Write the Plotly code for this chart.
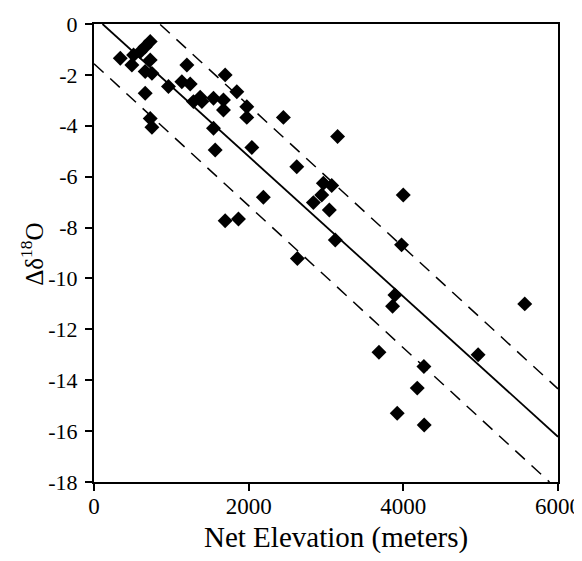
import plotly.graph_objects as go

# Data
elevation = [340, 490, 512, 598, 662, 727, 727, 662, 749, 662, 963, 1201, 1136, 1244,
             727, 749, 1286, 1373, 1395, 1545, 1674, 1674, 1696, 1847, 1976, 1976,
             1545, 1567, 2041, 2449, 3150, 2622, 2966, 3074, 2945, 2837, 3043, 2190,
             1696, 1868, 3120, 2630, 3999, 3977, 3891, 3861, 5570, 3685, 4967, 4266,
             4180, 3921, 4270]
delta18o = [-1.35, -1.61, -1.22, -1.09, -0.89, -0.69, -1.41, -1.87, -1.94, -2.72, -2.46,
            -1.61, -2.27, -2.36, -3.71, -4.06, -3.05, -2.88, -3.05, -2.92, -2.99, -3.38,
            -2.00, -2.66, -3.25, -3.67, -4.10, -4.95, -4.85, -3.67, -4.42, -5.61, -6.26,
            -6.35, -6.72, -7.02, -7.31, -6.81, -7.73, -7.66, -8.49, -9.22, -6.72, -8.68,
            -10.65, -11.09, -11.00, -12.90, -13.00, -13.46, -14.31, -15.30, -15.76]

# Regression line and bounds (endpoints)
fit_x = [110, 6000]
fit_y = [0.0, -16.22]
upper_x = [856, 6000]
upper_y = [-0.02, -14.34]
lower_x = [0, 5890]
lower_y = [-1.56, -18.0]

x_ticks = [0, 2000, 4000, 6000]
y_ticks = [0, -2, -4, -6, -8, -10, -12, -14, -16, -18]

x_title = "Net Elevation (meters)"
y_title = "Δδ<sup>18</sup>O"

FONT = "Liberation Serif"

fig = go.Figure()
fig.add_trace(go.Scatter(x=fit_x, y=fit_y, mode="lines",
                         line=dict(color="black", width=1.8), showlegend=False))
fig.add_trace(go.Scatter(x=upper_x, y=upper_y, mode="lines",
                         line=dict(color="black", width=1.5, dash="13px,9px"), showlegend=False))
fig.add_trace(go.Scatter(x=lower_x, y=lower_y, mode="lines",
                         line=dict(color="black", width=1.5, dash="13px,9px"), showlegend=False))
fig.add_trace(go.Scatter(x=elevation, y=delta18o, mode="markers",
                         marker=dict(symbol="diamond", size=11.5, color="black",
                                     line=dict(width=0)), showlegend=False))

axis_common = dict(showline=True, linecolor="black", linewidth=2, mirror=True,
                   ticks="outside", ticklen=7, tickwidth=1.5, tickcolor="black",
                   showgrid=False, zeroline=False, automargin=False,
                   ticklabeloverflow="allow")

fig.update_xaxes(range=[0, 6000], tickvals=x_ticks, ticktext=[str(v) for v in x_ticks],
                 ticklabelstandoff=-5, tickfont=dict(family=FONT, size=23, color="black"),
                 **axis_common)
fig.update_yaxes(range=[-18, 0], tickvals=y_ticks, ticktext=[str(v) for v in y_ticks],
                 ticklabelstandoff=3, tickfont=dict(family=FONT, size=22, color="black"),
                 **axis_common)

fig.add_annotation(text=x_title, xref="paper", yref="paper", x=0.5 + 10 / 464, y=0,
                   xanchor="center", yanchor="middle", yshift=-55, showarrow=False,
                   font=dict(family=FONT, size=29, color="black"))
fig.add_annotation(text=y_title, xref="paper", yref="paper", x=-62 / 464, y=0.496,
                   xanchor="center", yanchor="middle", textangle=-90, showarrow=False,
                   font=dict(family=FONT, size=25, color="black"))

# page body has an 8px margin, so the figure is offset and sized to fit the window
fig.update_layout(width=574, height=545, plot_bgcolor="white", paper_bgcolor="white",
                  margin=dict(l=86, r=24, t=16, b=71))

fig.write_html("out.html")
